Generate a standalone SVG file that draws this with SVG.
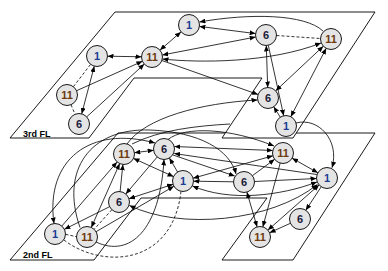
<svg xmlns="http://www.w3.org/2000/svg" width="388" height="271" viewBox="0 0 388 271">
<style>
.pl{fill:#fff;stroke:#000;stroke-width:0.9}
.e{fill:none;stroke:#000;stroke-width:0.8}
.d{fill:none;stroke:#000;stroke-width:0.8;stroke-dasharray:3,2}
.a{marker-end:url(#ah)}
.b{marker-start:url(#ah);marker-end:url(#ah)}
.n circle{fill:#e4e4e4;stroke:#000;stroke-width:0.9}
.n text{font-family:"Liberation Sans Narrow","Liberation Sans",Arial,sans-serif;font-size:11px;font-weight:bold;text-anchor:middle}
.c1 text{fill:#1c3c94}
.c6 text{fill:#1a1a3a}
.c11 text{fill:#6e3a10}
.fl{font-family:"Liberation Sans Narrow","Liberation Sans",Arial,sans-serif;font-size:9px;font-weight:bold;fill:#000}
</style>
<defs>
<marker id="ah" viewBox="0 0 6 5" markerWidth="6" markerHeight="5" refX="6" refY="2.5" orient="auto-start-reverse" markerUnits="userSpaceOnUse">
<path d="M0,0 L6,2.5 L0,5 z" fill="#000"/>
</marker>
</defs>
<g id="floors">
<polygon class="pl" points="118,133 375,133 293,260 222,260 267,198 141,198 94,260 10,260"/>
<polygon class="pl" points="115,12 375,12 293,138 222,138 262,78 134,78 89,138 10,138"/>
<text class="fl" x="23" y="137">3rd FL</text>
<text class="fl" x="23" y="258">2nd FL</text>
</g>
<g id="connectors">
<line class="e b" x1="107.5" y1="56.2" x2="141.5" y2="56.8"/>
<line class="e b" x1="160" y1="50.1" x2="181" y2="31.9"/>
<line class="e a" x1="76.6" y1="90.7" x2="142.4" y2="61.3"/>
<line class="e a" x1="86.7" y1="116.9" x2="144.3" y2="64.1"/>
<line class="e b" x1="81.7" y1="113.8" x2="94.3" y2="66.2"/>
<line class="d" x1="73.4" y1="86.7" x2="90.6" y2="64.3"/>
<line class="d" x1="71" y1="104.7" x2="75" y2="114.3"/>
<line class="e b" x1="199.4" y1="26.4" x2="255.6" y2="33.6"/>
<path class="e a" d="M323,31 C305,14 250,13 199.5,22"/>
<line class="d" x1="276.5" y1="35.5" x2="320.5" y2="38.5"/>
<line class="e b" x1="162.3" y1="55" x2="255.7" y2="37"/>
<path class="e b" d="M162.5,59 C200,63 270,63 321,43"/>
<line class="e a" x1="161.9" y1="60.5" x2="258.1" y2="94.5"/>
<line class="e b" x1="266.3" y1="45.5" x2="267.7" y2="87.5"/>
<line class="e a" x1="268.3" y1="45.3" x2="283.7" y2="115.7"/>
<line class="e b" x1="323.3" y1="46.2" x2="275.7" y2="90.8"/>
<line class="e b" x1="326.2" y1="48.3" x2="290.8" y2="116.7"/>
<line class="e a" x1="280.3" y1="117.2" x2="273.7" y2="106.8"/>
<path class="e a" d="M296,123 C318,117 340,140 332,167.7"/>
<path class="e a" d="M127,144 C145,118 200,103 257.5,100"/>
<path class="e" d="M132,144 C160,130 195,126 230,124"/>
<path class="e a" d="M168,139.5 C185,126 230,128 274,146"/>
<line class="e b" x1="134.4" y1="152.7" x2="153.6" y2="150.3"/>
<line class="e b" x1="133.5" y1="158.4" x2="173.5" y2="176.6"/>
<line class="e a" x1="157.2" y1="157" x2="125.8" y2="194"/>
<line class="e a" x1="120.1" y1="191.6" x2="122.9" y2="164.4"/>
<line class="e a" x1="177.6" y1="172" x2="169.4" y2="158"/>
<line class="e b" x1="173" y1="184.3" x2="129" y2="198.7"/>
<line class="e a" x1="109.6" y1="206.7" x2="64.4" y2="229.3"/>
<line class="e a" x1="61.9" y1="226" x2="117.1" y2="162"/>
<line class="e b" x1="119.7" y1="163.6" x2="91.3" y2="227.4"/>
<line class="d" x1="65.5" y1="234.3" x2="76.5" y2="236.7"/>
<line class="d" x1="111.9" y1="209.7" x2="94.1" y2="229.3"/>
<line class="e a" x1="96.1" y1="231.7" x2="173.9" y2="186.3"/>
<path class="e a" d="M96,242 C130,258 160,230 164,159.5"/>
<path class="d" d="M64,240 C100,268 172,268 181,191.5"/>
<path class="e b" d="M54,223.5 C45,160 90,125 155,143"/>
<path class="e a" d="M80,227.5 C60,170 90,128 150,130 C200,132 230,150 236,174"/>
<line class="e b" x1="174.4" y1="146.5" x2="272.7" y2="150.5"/>
<line class="e a" x1="316.8" y1="174.5" x2="174.2" y2="153.5"/>
<line class="e a" x1="173" y1="155" x2="234.7" y2="176"/>
<line class="e b" x1="292.1" y1="158.2" x2="317.9" y2="172.8"/>
<line class="e b" x1="193.1" y1="178.2" x2="272.9" y2="155.8"/>
<line class="e a" x1="252.4" y1="175.7" x2="274.6" y2="159.3"/>
<line class="e a" x1="233.5" y1="181.8" x2="193.5" y2="181.2"/>
<line class="e a" x1="254.5" y1="181.5" x2="316.5" y2="178.5"/>
<path class="e b" d="M192.5,186 C230,202 280,196 317,182"/>
<path class="e b" d="M317.5,184.5 C270,222 180,230 129.5,205.5"/>
<line class="e b" x1="246.9" y1="192.1" x2="257.1" y2="226.9"/>
<line class="e a" x1="280.2" y1="163.1" x2="262.8" y2="226.9"/>
<line class="e b" x1="319.1" y1="184.9" x2="267.9" y2="230.1"/>
<line class="e a" x1="321.2" y1="186.8" x2="305.8" y2="210.2"/>
<line class="e a" x1="290.4" y1="223.3" x2="269.6" y2="232.7"/>
</g>
<g id="n3_1t" class="n c1"><circle cx="189" cy="25" r="10.5"/><text x="189" y="29">1</text></g>
<g id="n3_11" class="n c11"><circle cx="152" cy="57" r="10.5"/><text x="152" y="61">11</text></g>
<g id="n3_1l" class="n c1"><circle cx="97" cy="56" r="10.5"/><text x="97" y="60">1</text></g>
<g id="n3_11l" class="n c11"><circle cx="67" cy="95" r="10.5"/><text x="67" y="99">11</text></g>
<g id="n3_6l" class="n c6"><circle cx="79" cy="124" r="10.5"/><text x="79" y="128">6</text></g>
<g id="n3_6" class="n c6"><circle cx="266" cy="35" r="10.5"/><text x="266" y="39">6</text></g>
<g id="n3_11r" class="n c11"><circle cx="331" cy="39" r="10.5"/><text x="331" y="43">11</text></g>
<g id="n3_6m" class="n c6"><circle cx="268" cy="98" r="10.5"/><text x="268" y="102">6</text></g>
<g id="n3_1m" class="n c1"><circle cx="286" cy="126" r="10.5"/><text x="286" y="130">1</text></g>
<g id="n2_11" class="n c11"><circle cx="124" cy="154" r="10.5"/><text x="124" y="158">11</text></g>
<g id="n2_6" class="n c6"><circle cx="164" cy="149" r="10.5"/><text x="164" y="153">6</text></g>
<g id="n2_1" class="n c1"><circle cx="183" cy="181" r="10.5"/><text x="183" y="185">1</text></g>
<g id="n2_6l" class="n c6"><circle cx="119" cy="202" r="10.5"/><text x="119" y="206">6</text></g>
<g id="n2_1l" class="n c1"><circle cx="55" cy="234" r="10.5"/><text x="55" y="238">1</text></g>
<g id="n2_11l" class="n c11"><circle cx="87" cy="237" r="10.5"/><text x="87" y="241">11</text></g>
<g id="n2_11r" class="n c11"><circle cx="283" cy="153" r="10.5"/><text x="283" y="157">11</text></g>
<g id="n2_6m" class="n c6"><circle cx="244" cy="182" r="10.5"/><text x="244" y="186">6</text></g>
<g id="n2_1r" class="n c1"><circle cx="327" cy="178" r="10.5"/><text x="327" y="182">1</text></g>
<g id="n2_6r" class="n c6"><circle cx="300" cy="219" r="10.5"/><text x="300" y="223">6</text></g>
<g id="n2_11b" class="n c11"><circle cx="260" cy="237" r="10.5"/><text x="260" y="241">11</text></g>
</svg>
